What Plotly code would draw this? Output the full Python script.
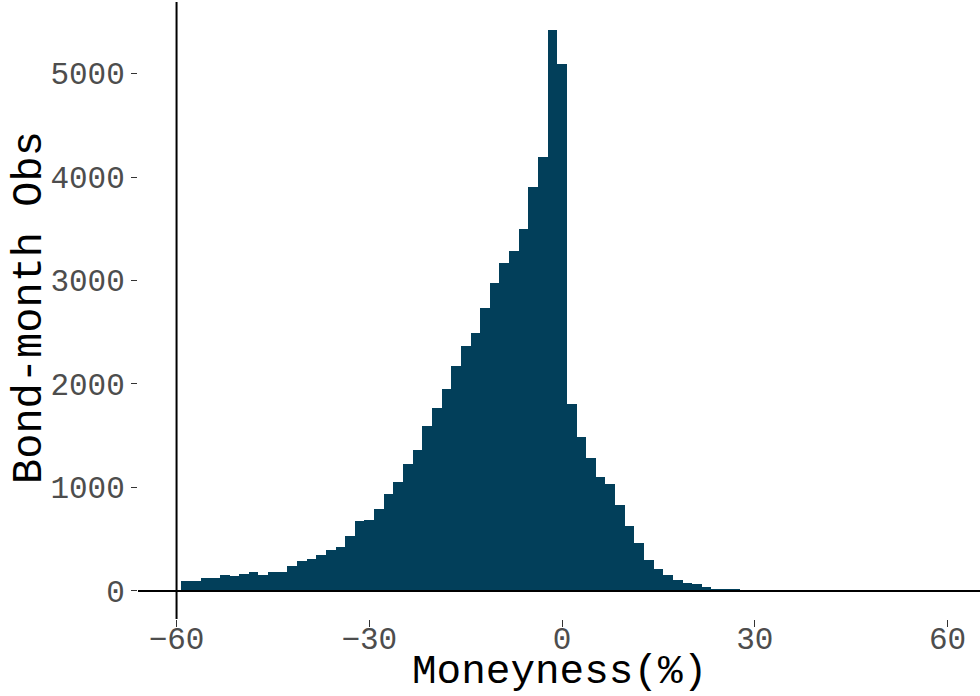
import plotly.graph_objects as go

# Bin centres (% moneyness), bin width 1.5
bin_centers = [-58.5, -57, -55.5, -54, -52.5, -51, -49.5, -48, -46.5, -45,
               -43.5, -42, -40.5, -39, -37.5, -36, -34.5, -33, -31.5, -30,
               -28.5, -27, -25.5, -24, -22.5, -21, -19.5, -18, -16.5, -15,
               -13.5, -12, -10.5, -9, -7.5, -6, -4.5, -3, -1.5, 0,
               1.5, 3, 4.5, 6, 7.5, 9, 10.5, 12, 13.5, 15,
               16.5, 18, 19.5, 21, 22.5, 24, 25.5, 27]
counts = [97, 100, 124, 128, 156, 145, 166, 184, 158, 182,
          186, 245, 290, 309, 348, 396, 428, 530, 672, 688,
          792, 937, 1053, 1227, 1362, 1594, 1768, 1952, 2174, 2367,
          2493, 2734, 2976, 3169, 3285, 3498, 3906, 4190, 5420, 5095,
          1807, 1488, 1285, 1101, 1034, 831, 628, 464, 300, 213,
          155, 106, 80, 70, 40, 22, 20, 16]
bin_width = 1.5

x_ticks = [-60, -30, 0, 30, 60]
x_tick_labels = ["\u221260", "\u221230", "0", "30", "60"]
y_ticks = [0, 1000, 2000, 3000, 4000, 5000]
y_tick_labels = ["0", "1000", "2000", "3000", "4000", "5000"]

vline_x = -60
hline_y = 0

FONT = "Liberation Mono"
BAR = "#023f5a"

fig = go.Figure()
fig.add_trace(go.Bar(x=bin_centers, y=counts, width=bin_width,
                     marker=dict(color=BAR, line=dict(width=0)),
                     hoverinfo="x+y"))

fig.add_shape(type="line", xref="x", yref="paper", x0=vline_x, x1=vline_x,
              y0=0, y1=1, line=dict(color="black", width=2), layer="above")
fig.add_shape(type="line", xref="paper", yref="y", x0=0, x1=1,
              y0=hline_y, y1=hline_y, line=dict(color="black", width=2),
              layer="above")

fig.update_layout(
    width=980, height=696,
    margin=dict(l=138, r=0, t=2, b=77),
    paper_bgcolor="white", plot_bgcolor="white",
    bargap=0, showlegend=False,
    font=dict(family=FONT, color="#4d4d4d"),
    xaxis=dict(range=[-66, 65.05], tickvals=x_ticks, ticktext=x_tick_labels,
               ticks="outside", ticklen=7, tickwidth=1, tickcolor="#333333",
               ticklabelstandoff=-15,
               showgrid=False, zeroline=False, showline=False,
               tickfont=dict(family=FONT, size=31, color="#4d4d4d")),
    yaxis=dict(range=[-271, 5691], tickvals=y_ticks, ticktext=y_tick_labels,
               ticks="outside", ticklen=6, tickwidth=1, tickcolor="#333333",
               showgrid=False, zeroline=False, showline=False,
               tickfont=dict(family=FONT, size=31, color="#4d4d4d")),
    annotations=[
        dict(text="Moneyness(%)", xref="paper", yref="paper",
             x=(559.5 - 138) / 842, y=(619 - 672) / 617,
             xanchor="center", yanchor="middle", showarrow=False,
             font=dict(family=FONT, size=41, color="black")),
        dict(text="Bond-month Obs", xref="paper", yref="paper",
             x=(30 - 138) / 842, y=(619 - 308) / 617, textangle=-90,
             xanchor="center", yanchor="middle", showarrow=False,
             font=dict(family=FONT, size=42, color="black")),
    ],
)

fig.write_html("out.html")
